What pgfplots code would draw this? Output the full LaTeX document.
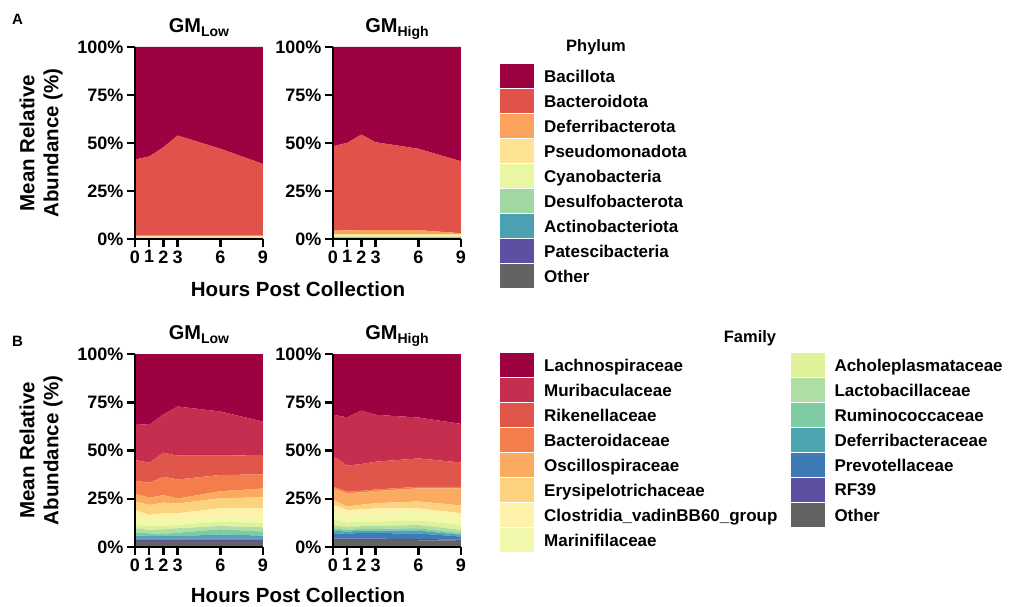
\documentclass[border=0pt]{standalone}
\usepackage{pgfplots}
\pgfplotsset{compat=1.18}
\usepackage{pgfplotstable}
\usepackage{fontspec}
\setmainfont{Liberation Sans}

% Phylum colours
\definecolor{pBacillota}{HTML}{9E0142}
\definecolor{pBacteroidota}{HTML}{E0524A}
\definecolor{pDeferri}{HTML}{FBA35C}
\definecolor{pPseudo}{HTML}{FEE395}
\definecolor{pCyano}{HTML}{E9F6A2}
\definecolor{pDesulfo}{HTML}{9FD9A1}
\definecolor{pActino}{HTML}{4BA0B1}
\definecolor{pPatesci}{HTML}{5E4FA2}
\definecolor{pOther}{HTML}{636363}
% Family colours
\definecolor{fLachno}{HTML}{9E0142}
\definecolor{fMurib}{HTML}{C62E4F}
\definecolor{fRiken}{HTML}{E1564A}
\definecolor{fBacter}{HTML}{F47E4B}
\definecolor{fOscill}{HTML}{FBAB60}
\definecolor{fErysip}{HTML}{FDD27F}
\definecolor{fClostr}{HTML}{FEF1A9}
\definecolor{fMarini}{HTML}{F2F9AC}
\definecolor{fAchole}{HTML}{DFF29A}
\definecolor{fLacto}{HTML}{AEDEA2}
\definecolor{fRumino}{HTML}{7ECBA4}
\definecolor{fDeferri}{HTML}{4CA5B1}
\definecolor{fPrevot}{HTML}{3E7AB6}
\definecolor{fRF}{HTML}{5E4FA2}
\definecolor{fOther}{HTML}{636363}

% Phylum, layer values (%), bottom to top
\pgfplotstableread{
x Other Pates Actino Desulfo Cyano Pseudo Deferri Bacteroid Bacillota
0 0.2 0.1 0.1 0.3 0.2 0.6 0.3 39.6 58.6
1 0.2 0.1 0.1 0.3 0.2 0.6 0.3 41.2 57.0
2 0.2 0.1 0.1 0.3 0.2 0.6 0.3 46.0 52.2
3 0.2 0.1 0.1 0.3 0.2 0.6 0.3 52.1 46.1
6 0.2 0.1 0.1 0.3 0.2 0.6 0.3 45.2 53.0
9 0.2 0.1 0.1 0.3 0.2 0.6 0.3 37.3 60.9
}\phyLow
\pgfplotstableread{
x Other Pates Actino Desulfo Cyano Pseudo Deferri Bacteroid Bacillota
0 0.4 0.1 0.2 0.4 0.6 0.9 1.7 44.0 51.7
1 0.4 0.1 0.2 0.4 0.6 0.9 1.9 45.6 49.9
2 0.4 0.1 0.2 0.4 0.6 0.9 2.0 49.8 45.6
3 0.4 0.1 0.2 0.4 0.6 0.9 2.0 45.8 49.6
6 0.4 0.1 0.2 0.4 0.6 0.9 2.0 42.4 53.0
9 0.4 0.1 0.2 0.4 0.6 0.9 0.4 37.5 59.5
}\phyHigh
% Family, layer values (%), bottom to top
\pgfplotstableread{
x Other RF Prevot Deferri Rumino Lacto Achole Marini Clostr Erysip Oscill Bacter Riken Murib Lachno
0 3.2 0.6 0.7 1.4 1.5 2.3 1.7 4.0 3.8 4.4 4.1 6.6 10.8 18.7 36.2
1 3.2 0.6 0.7 1.3 1.3 1.8 2.0 3.1 2.6 5.2 3.7 7.8 10.4 19.6 36.7
2 3.2 0.6 0.6 1.2 1.2 2.4 1.7 3.1 3.5 5.5 3.9 9.5 12.5 19.9 31.2
3 3.2 0.6 0.6 1.2 1.8 2.3 1.7 2.6 3.5 5.0 2.6 9.9 12.3 25.5 27.2
6 3.2 0.6 0.7 2.0 2.7 1.7 2.3 2.6 4.3 5.2 3.6 8.4 10.0 22.9 29.8
9 3.2 0.6 0.6 1.5 2.1 2.2 2.1 3.5 4.3 5.6 4.6 7.3 10.1 17.3 35.0
}\famLow
\pgfplotstableread{
x Other RF Prevot Deferri Rumino Lacto Achole Marini Clostr Erysip Oscill Bacter Riken Murib Lachno
0 3.5 0.8 2.8 1.4 1.2 1.7 2.6 4.3 3.6 2.5 6.1 0.8 15.8 21.4 31.5
1 3.5 0.9 2.4 1.2 0.9 1.3 2.5 3.9 2.6 1.8 6.8 0.8 13.5 25.1 32.8
2 3.5 0.9 3.0 1.1 0.9 1.4 2.4 3.9 2.4 2.4 6.4 0.8 13.9 27.7 29.3
3 3.5 0.8 2.9 1.3 0.9 1.4 2.4 4.3 2.5 2.7 6.3 0.8 14.4 24.3 31.5
6 3.5 0.7 2.8 1.5 1.2 1.7 2.3 4.6 1.7 3.6 6.8 0.8 14.7 21.2 32.9
9 3.2 0.6 1.6 0.9 0.8 1.8 2.6 3.5 2.5 4.0 8.9 0.8 12.6 20.0 36.2
}\famHigh

\pgfplotsset{
  myaxis/.style={
    scale only axis, width=128pt,
    xmin=0, xmax=9, ymin=0, ymax=100,
    axis x line*=bottom, axis y line*=left,
    axis line style={line width=2.5pt,-},
    xtick={0,1,2,3,6,9}, xticklabels={0,1,2,3,6,9},
    ytick={0,25,50,75,100}, yticklabels={0\%,25\%,50\%,75\%,100\%},
    tick align=outside, major tick length=8pt,
    every tick/.style={line width=2.5pt, black},
    tick label style={font=\bfseries\fontsize{18}{18}\selectfont},
    axis on top, stack plots=y, area style,
    legend cell align=left,
    legend style={draw=none, fill=none, inner sep=0pt, anchor=north west,
      font=\bfseries\fontsize{17}{17}\selectfont, row sep=1.5pt,
      nodes={inner ysep=0pt, inner xsep=0pt},
      /tikz/every odd column/.style={column sep=10pt}},
  },
  sw/.style={fill=#1, draw=none,
    legend image code/.code={\fill[fill=#1] (0pt,-11pt) rectangle (34pt,12.5pt);}},
  lay/.style={fill=#1, draw=none, forget plot},
}

\newcommand{\phylumplots}[1]{%
  \addplot[lay=pOther] table[x=x,y=Other]{#1} \closedcycle;
  \addplot[lay=pPatesci] table[x=x,y=Pates]{#1} \closedcycle;
  \addplot[lay=pActino] table[x=x,y=Actino]{#1} \closedcycle;
  \addplot[lay=pDesulfo] table[x=x,y=Desulfo]{#1} \closedcycle;
  \addplot[lay=pCyano] table[x=x,y=Cyano]{#1} \closedcycle;
  \addplot[lay=pPseudo] table[x=x,y=Pseudo]{#1} \closedcycle;
  \addplot[lay=pDeferri] table[x=x,y=Deferri]{#1} \closedcycle;
  \addplot[lay=pBacteroidota] table[x=x,y=Bacteroid]{#1} \closedcycle;
  \addplot[lay=pBacillota] table[x=x,y=Bacillota]{#1} \closedcycle;
}
\newcommand{\familyplots}[1]{%
  \addplot[lay=fOther] table[x=x,y=Other]{#1} \closedcycle;
  \addplot[lay=fRF] table[x=x,y=RF]{#1} \closedcycle;
  \addplot[lay=fPrevot] table[x=x,y=Prevot]{#1} \closedcycle;
  \addplot[lay=fDeferri] table[x=x,y=Deferri]{#1} \closedcycle;
  \addplot[lay=fRumino] table[x=x,y=Rumino]{#1} \closedcycle;
  \addplot[lay=fLacto] table[x=x,y=Lacto]{#1} \closedcycle;
  \addplot[lay=fAchole] table[x=x,y=Achole]{#1} \closedcycle;
  \addplot[lay=fMarini] table[x=x,y=Marini]{#1} \closedcycle;
  \addplot[lay=fClostr] table[x=x,y=Clostr]{#1} \closedcycle;
  \addplot[lay=fErysip] table[x=x,y=Erysip]{#1} \closedcycle;
  \addplot[lay=fOscill] table[x=x,y=Oscill]{#1} \closedcycle;
  \addplot[lay=fBacter] table[x=x,y=Bacter]{#1} \closedcycle;
  \addplot[lay=fRiken] table[x=x,y=Riken]{#1} \closedcycle;
  \addplot[lay=fMurib] table[x=x,y=Murib]{#1} \closedcycle;
  \addplot[lay=fLachno] table[x=x,y=Lachno]{#1} \closedcycle;
}

\begin{document}
\begin{tikzpicture}[x=1pt,y=1pt]
\path[use as bounding box] (0pt,0pt) rectangle (1013pt,606pt);

% ---------- Panel A ----------
\begin{axis}[myaxis, height=192pt, at={(135pt,367pt)}, anchor=south west]
\phylumplots{\phyLow}
\end{axis}
\begin{axis}[myaxis, height=192pt, at={(333pt,367pt)}, anchor=south west,
  legend style={at={(1.3047,0.9115)}}]
\phylumplots{\phyHigh}
\addlegendimage{sw=pBacillota}\addlegendentry{Bacillota}
\addlegendimage{sw=pBacteroidota}\addlegendentry{Bacteroidota}
\addlegendimage{sw=pDeferri}\addlegendentry{Deferribacterota}
\addlegendimage{sw=pPseudo}\addlegendentry{Pseudomonadota}
\addlegendimage{sw=pCyano}\addlegendentry{Cyanobacteria}
\addlegendimage{sw=pDesulfo}\addlegendentry{Desulfobacterota}
\addlegendimage{sw=pActino}\addlegendentry{Actinobacteriota}
\addlegendimage{sw=pPatesci}\addlegendentry{Patescibacteria}
\addlegendimage{sw=pOther}\addlegendentry{Other}
\end{axis}

% ---------- Panel B ----------
\begin{axis}[myaxis, height=193pt, at={(135pt,59pt)}, anchor=south west]
\familyplots{\famLow}
\end{axis}
\begin{axis}[myaxis, height=193pt, at={(333pt,59pt)}, anchor=south west,
  legend columns=2,
  legend style={at={(1.3047,1.0052)}, /tikz/column 2/.style={column sep=13pt}}]
\familyplots{\famHigh}
\addlegendimage{sw=fLachno}\addlegendentry{Lachnospiraceae}
\addlegendimage{sw=fAchole}\addlegendentry{Acholeplasmataceae}
\addlegendimage{sw=fMurib}\addlegendentry{Muribaculaceae}
\addlegendimage{sw=fLacto}\addlegendentry{Lactobacillaceae}
\addlegendimage{sw=fRiken}\addlegendentry{Rikenellaceae}
\addlegendimage{sw=fRumino}\addlegendentry{Ruminococcaceae}
\addlegendimage{sw=fBacter}\addlegendentry{Bacteroidaceae}
\addlegendimage{sw=fDeferri}\addlegendentry{Deferribacteraceae}
\addlegendimage{sw=fOscill}\addlegendentry{Oscillospiraceae}
\addlegendimage{sw=fPrevot}\addlegendentry{Prevotellaceae}
\addlegendimage{sw=fErysip}\addlegendentry{Erysipelotrichaceae}
\addlegendimage{sw=fRF}\addlegendentry{RF39}
\addlegendimage{sw=fClostr}\addlegendentry{Clostridia\_vadinBB60\_group}
\addlegendimage{sw=fOther}\addlegendentry{Other}
\addlegendimage{sw=fMarini}\addlegendentry{Marinifilaceae}
\end{axis}

% ---------- Text ----------
\begin{scope}[every node/.style={inner sep=0pt}]
\node[anchor=base west, font=\bfseries\fontsize{15}{15}\selectfont] at (12pt,581pt) {A};
\node[anchor=base west, font=\bfseries\fontsize{15}{15}\selectfont] at (12pt,259pt) {B};
% titles
\node[anchor=base, font=\bfseries\fontsize{20}{20}\selectfont] at (199pt,573pt) {GM{\fontsize{14}{14}\selectfont\raisebox{-4pt}{Low}}};
\node[anchor=base, font=\bfseries\fontsize{20}{20}\selectfont] at (397pt,573pt) {GM{\fontsize{14}{14}\selectfont\raisebox{-4pt}{High}}};
\node[anchor=base, font=\bfseries\fontsize{20}{20}\selectfont] at (199pt,266pt) {GM{\fontsize{14}{14}\selectfont\raisebox{-4pt}{Low}}};
\node[anchor=base, font=\bfseries\fontsize{20}{20}\selectfont] at (397pt,266pt) {GM{\fontsize{14}{14}\selectfont\raisebox{-4pt}{High}}};
% y labels
\node[rotate=90, align=center, font=\bfseries\fontsize{20.5}{24}\selectfont] at (41pt,463pt) {Mean Relative\\Abundance (\%)};
\node[rotate=90, align=center, font=\bfseries\fontsize{20.5}{24}\selectfont] at (41pt,155.5pt) {Mean Relative\\Abundance (\%)};
% x labels
\node[anchor=base, font=\bfseries\fontsize{20.5}{20.5}\selectfont] at (298pt,309pt) {Hours Post Collection};
\node[anchor=base, font=\bfseries\fontsize{20.5}{20.5}\selectfont] at (298pt,3.5pt) {Hours Post Collection};
% legend titles
\node[anchor=base, font=\bfseries\fontsize{16.5}{16.5}\selectfont] at (596pt,554pt) {Phylum};
\node[anchor=base, font=\bfseries\fontsize{16.5}{16.5}\selectfont] at (750pt,263pt) {Family};
\end{scope}
\end{tikzpicture}
\end{document}
